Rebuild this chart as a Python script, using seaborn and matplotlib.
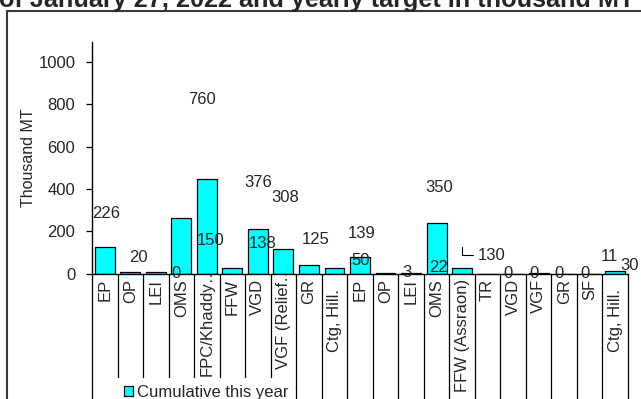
import matplotlib
matplotlib.use("Agg")
import matplotlib.pyplot as plt
import seaborn as sns
import pandas as pd
import numpy as np
from matplotlib.patches import Rectangle
from matplotlib.transforms import ScaledTranslation, blended_transform_factory

# ---------------- data ----------------
categories = ["EP", "OP", "LEI", "OMS", "FPC/Khaddy\u2026", "FFW", "VGD", "VGF (Relief\u2026", "GR", "Ctg, Hill.",
              "EP", "OP", "LEI", "OMS", "FFW (Assraon)", "TR", "VGD", "VGF", "GR", "SF", "Ctg, Hill."]
cumulative = [126, 6, 5, 263, 447, 27, 211, 118, 40, 28,
              80, 3, 3, 237, 27, 0, 0, 2, 0, 0, 11]
target_labels = ["226", "20", "0", "760", "150", "376", "138", "308", "125", "139",
                 "50", "3", "350", "22", "130", "0", "0", "0", "0", "11", "30"]
series_name = "Cumulative this year"
title = "of January 27, 2022 and yearly target in thousand MT"
ylabel = "Thousand MT"
yticks = [0, 200, 400, 600, 800, 1000]

# ---------------- layout (label anchor positions, data units) ----------------
label_x = [0.04, 1.32, 2.79, 3.80, 4.16, 6.02, 6.19, 7.07, 8.25, 10.08,
           10.02, 11.82, 13.12, 13.08, 15.17, 15.81, 16.82, 17.81, 18.80, 19.78, 20.57]
label_y = [282, 76, 0, 822, 157, 432, 143, 361, 160, 190,
           63, 5, 409, 29, 86, 0, 0, 0, 0, 81, 36]

sns.set_style("white")
plt.rcParams["font.family"] = ["Liberation Sans", "DejaVu Sans"]

W, H = 641, 399
fig = plt.figure(figsize=(W / 100, H / 100), dpi=100, facecolor="white")
ax = fig.add_axes([92 / W, 125.5 / H, 536 / W, 232 / H])

df = pd.DataFrame({"pos": list(range(len(categories))), "value": cumulative})
sns.barplot(data=df, x="pos", y="value", color="#00FFFF", saturation=1,
            edgecolor="black", linewidth=0.9, width=0.78, ax=ax)

ax.set_xlim(-0.5, len(categories) - 0.5)
ax.set_ylim(0, 1097)
ax.set_yticks(yticks)
ax.set_yticklabels([str(v) for v in yticks], fontsize=12)
ax.tick_params(axis="y", direction="out", length=4.5, width=0.9, pad=7.5, color="black", left=True)
ax.set_xticks(range(len(categories)))
ax.set_xticklabels(categories, rotation=90, fontsize=12, va="top", ha="center")
ax.tick_params(axis="x", length=0, pad=4)
ax.set_xlabel("")
ax.set_ylabel(ylabel, fontsize=11.5)
ax.yaxis.set_label_coords(-0.104, 0.5)
for s in ["top", "right"]:
    ax.spines[s].set_visible(False)
for s in ["left", "bottom"]:
    ax.spines[s].set_color("black")
    ax.spines[s].set_linewidth(1.0)

# vertical nudges of some category labels as in the reference
for i, lab in enumerate(ax.get_xticklabels()):
    if categories[i].startswith("Ctg"):
        lab.set_transform(lab.get_transform() + ScaledTranslation(0, -10 / 100, fig.dpi_scale_trans))
    elif categories[i].endswith("\u2026"):
        lab.set_transform(lab.get_transform() + ScaledTranslation(0, 14 / 100, fig.dpi_scale_trans))

# category separators
bt = blended_transform_factory(ax.transData, ax.transAxes)
for b in np.arange(-0.5, len(categories), 1.0):
    ax.plot([b, b], [0, -0.6], transform=bt, color="black", lw=0.9, clip_on=False, zorder=1)

# yearly target labels
for s, x, y in zip(target_labels, label_x, label_y):
    if s == "130":
        ax.annotate(s, xy=(14.0, 123), xytext=(x, y), ha="center", va="center", fontsize=12,
                    annotation_clip=False,
                    arrowprops=dict(arrowstyle="-", color="black", lw=0.8,
                                    connectionstyle="angle,angleA=180,angleB=90,rad=0",
                                    shrinkA=1, shrinkB=0))
    else:
        ax.text(x, y, s, ha="center", va="center", fontsize=12, clip_on=False, zorder=4)

# legend
handle = Rectangle((0, 0), 1, 1, facecolor="#00FFFF", edgecolor="black", lw=0.9)
leg = ax.legend([handle], [series_name], loc="upper left", bbox_to_anchor=(117 / W, 1 - 378 / H),
                bbox_transform=fig.transFigure, frameon=True, fancybox=False, facecolor="white",
                edgecolor="none", framealpha=1, fontsize=12, handlelength=0.55, handleheight=0.55,
                handletextpad=0.25, borderaxespad=0, borderpad=0.4)
leg.set_zorder(10)

# chart area border
fig.add_artist(Rectangle((7 / W, -0.1), 1.2, (H - 11) / H + 0.1, transform=fig.transFigure,
                         fill=False, edgecolor="#3a3a3a", lw=1.5))

# title (clipped at top)
t = fig.text(-1 / W, 1 - 7 / H, title, fontsize=15, fontweight="bold", ha="left", va="baseline")
fig.canvas.draw()
w = t.get_window_extent().width
t.set_fontsize(15 * 638 / w)

fig.savefig("out.png", dpi=100, facecolor="white")
